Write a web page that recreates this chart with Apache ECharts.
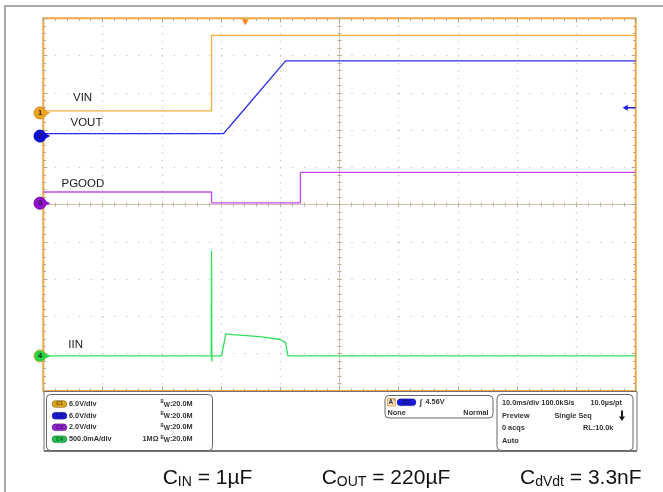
<!DOCTYPE html>
<html><head><meta charset="utf-8">
<script src="https://cdn.jsdelivr.net/npm/echarts@6/dist/echarts.min.js"></script>
<style>html,body{margin:0;padding:0;background:#fff}#c{width:663px;height:492px}</style>
</head><body><div id="c"></div>
<script>
// ---- data (time in ms from left edge, 10 ms/div) ----
const vinTimeMs = [0, 28.4, 28.4, 100];
const vinVolts = [0.35, 0.35, 12.5, 12.5];
const voutTimeMs = [0, 30.4, 31.6, 40.9, 100];
const voutVolts = [0.4, 0.4, 1.7, 12.1, 12.1];
const pgoodTimeMs = [0, 28.4, 28.4, 43.4, 43.4, 100];
const pgoodVolts = [0.6, 0.6, 0.02, 0.02, 1.65, 1.65];
const iinTimeMs = [0, 28.35, 28.4, 28.45, 28.5, 30.1, 30.8, 32.0, 36.5, 39.9, 40.9, 41.3, 100];
const iinMilliAmps = [0, 0, 1410, -75, 0, 0, 295, 285, 259, 224, 179, 0, 0];
const channelNames = ['VIN', 'VOUT', 'PGOOD', 'IIN'];
const channelScaleText = ['6.0V/div', '6.0V/div', '2.0V/div', '500.0mA/div'];
const channelScales = [6, 6, 2, 500];          // units per division
const triggerTimeMs = 34.1;
const triggerLevelV = 4.56;
const divisionTicks = [-5, -4, -3, -2, -1, 0, 1, 2, 3, 4, 5];

// scope channel offsets (divisions above screen centre) - display setup
const channelGroundDiv = [2.46, 1.84, 0.04, -4.06];

const FONT = '"Liberation Sans", Arial, sans-serif';
const orange = '#F0A83C';
const tickColor = '#B0A283';
const dotColor = '#C4C4C4';
const traceColors = ['#F7AE3A', '#2B2BEA', '#C848F0', '#2FE05C'];
const markerColors = ['#EFA21E', '#0C0CE6', '#9410D6', '#22D646'];
const markerRing = ['#C8881A', '#0808A0', '#6A0A9A', '#E4A232'];
const badgeColors = ['#D9A21C', '#1A1AD6', '#8E22CC', '#22BC50'];

const tMin = vinTimeMs[0], tMax = vinTimeMs[vinTimeMs.length - 1];
const zip = (xs, ys) => xs.map((x, i) => [x, ys[i]]);
const seriesData = [zip(vinTimeMs, vinVolts), zip(voutTimeMs, voutVolts), zip(pgoodTimeMs, pgoodVolts), zip(iinTimeMs, iinMilliAmps)];
const chMin = i => (divisionTicks[0] - channelGroundDiv[i]) * channelScales[i];
const chMax = i => (divisionTicks[divisionTicks.length - 1] - channelGroundDiv[i]) * channelScales[i];

const dMin = divisionTicks[0], dMax = divisionTicks[divisionTicks.length - 1];

function divAxis(position, opts) {
  return Object.assign({
    type: 'value', min: dMin, max: dMax, interval: 1, position: position,
    axisLabel: { show: false },
    axisLine: { show: false, onZero: false },
    axisTick: { show: true, inside: true, length: 4, lineStyle: { color: tickColor, width: 1 } },
    minorTick: { show: true, splitNumber: 5, length: 2.5, lineStyle: { color: tickColor, width: 1 } },
    splitLine: { show: false }, minorSplitLine: { show: false }
  }, opts || {});
}
function centreAxis(position) {
  return divAxis(position, {
    axisLine: { show: true, onZero: true, onZeroAxisIndex: 0, lineStyle: { color: '#C8BFAA', width: 1 } },
    axisTick: { show: true, inside: true, length: 2.5, lineStyle: { color: '#BDB196', width: 1 } },
    minorTick: { show: true, splitNumber: 5, length: 2, lineStyle: { color: '#BDB196', width: 1 } }
  });
}

const xAxes = [
  divAxis('bottom', { splitLine: { show: true, lineStyle: { color: dotColor, width: 1.2, type: [1.2, 6.25] } } }),
  divAxis('top'),
  centreAxis('bottom'),
  centreAxis('top'),
  { type: 'value', min: tMin, max: tMax, show: false, axisLine: { onZero: false } }
];
const yAxes = [
  divAxis('left', { splitLine: { show: true, lineStyle: { color: dotColor, width: 1.2, type: [1.2, 10.65] } } }),
  divAxis('right'),
  centreAxis('left'),
  centreAxis('right')
];
channelNames.forEach((n, i) => yAxes.push({ type: 'value', min: chMin(i), max: chMax(i), show: false, axisLine: { onZero: false } }));

function groundMarkers(i) {
  return [
    { coord: [tMin, 0], symbol: 'circle', symbolSize: 12, symbolOffset: [-3.3, 0],
      itemStyle: { color: markerColors[i], borderColor: markerRing[i], borderWidth: 1 },
      label: { show: true, formatter: String(i + 1), color: '#262626', fontSize: 7.5, fontWeight: 'bold', fontFamily: FONT } },
    { coord: [tMin, 0], symbol: 'path://M0,0 L5,2.5 L0,5 Z', symbolSize: [5, 5], symbolOffset: [4.5, 0],
      itemStyle: { color: markerColors[i] }, label: { show: false } }
  ];
}

const series = channelNames.map((n, i) => {
  const marks = groundMarkers(i);
  if (i === 0) marks.push({ coord: [triggerTimeMs, chMax(0)], symbol: 'triangle', symbolRotate: 180, symbolSize: [7, 6], symbolOffset: [0, 4],
    itemStyle: { color: '#F5861E' }, label: { show: false } });
  if (i === 1) marks.push({ coord: [tMax, triggerLevelV], symbol: 'path://M0,3 L5,0 L5,2.2 L13,2.2 L13,3.8 L5,3.8 L5,6 Z', symbolSize: [13, 6], symbolOffset: [-6.5, 0],
    itemStyle: { color: '#1A1AE0' }, label: { show: false } });
  return {
    name: n, type: 'line', xAxisIndex: 4, yAxisIndex: 4 + i, data: seriesData[i],
    showSymbol: false, symbol: 'none', lineStyle: { color: traceColors[i], width: 1.3 }, z: 3,
    markPoint: { silent: true, animation: false, data: marks }
  };
});

// ---------- decorations (screen furniture of the scope) ----------
const txt = (x, y, text, extra) => ({ type: 'text', x: x, y: y, silent: true, z: 20,
  style: Object.assign({ text: text, fill: '#333', font: 'bold 7.3px ' + FONT, align: 'left', verticalAlign: 'middle' }, extra || {}) });
const bw = (x, y) => ({ type: 'text', x: x, y: y, silent: true, z: 20,
  style: { text: '{b|B}{w|W}{t|:20.0M}', align: 'left', verticalAlign: 'middle', fill: '#333',
    rich: { b: { fontSize: 4.5, fontFamily: FONT, fontWeight: 'bold', lineHeight: 5, verticalAlign: 'top', fill: '#333' },
            w: { fontSize: 6.5, fontFamily: FONT, fontWeight: 'bold', lineHeight: 9, verticalAlign: 'middle', fill: '#333', padding: [2, 0, 0, 0] },
            t: { fontSize: 7.3, fontFamily: FONT, fontWeight: 'bold', lineHeight: 9, verticalAlign: 'middle', fill: '#333' } } } });
const badge = (x, y, w, h, color, label) => [
  { type: 'rect', silent: true, z: 20, shape: { x: x, y: y - h / 2, width: w, height: h, r: h / 2 },
    style: { fill: color, stroke: 'rgba(0,0,0,0.35)', lineWidth: 0.6 } },
  { type: 'text', silent: true, z: 21, x: x + w / 2, y: y, style: { text: label, fill: 'rgba(0,0,0,0.55)', font: 'bold 5px ' + FONT, align: 'center', verticalAlign: 'middle' } }
];
const cap = (x, main, sub, rest) => ({ type: 'text', x: x, y: 476, silent: true, z: 20,
  style: { text: '{m|' + main + '}{s|' + sub + '}{m|' + rest + '}', align: 'left', verticalAlign: 'middle',
    rich: { m: { fontSize: 21, fontFamily: FONT, lineHeight: 26, verticalAlign: 'bottom', fill: '#111' },
            s: { fontSize: 14, fontFamily: FONT, lineHeight: 12, verticalAlign: 'bottom', fill: '#111' } } } });

const graphic = [
  { type: 'rect', silent: true, z: -5, shape: { x: 5, y: 6, width: 720, height: 540 }, style: { fill: 'none', stroke: '#8a8a8a', lineWidth: 1.5 } },
  { type: 'rect', silent: true, z: 10, shape: { x: 44, y: 391.5, width: 593, height: 59 }, style: { fill: '#fff', stroke: '#707070', lineWidth: 1 } },
  { type: 'line', silent: true, z: 10, shape: { x1: 44, y1: 451, x2: 637, y2: 451 }, style: { stroke: '#777', lineWidth: 2 } },
  { type: 'rect', silent: true, z: 11, shape: { x: 46.5, y: 394.5, width: 166, height: 56, r: 4 }, style: { fill: '#fff', stroke: '#666', lineWidth: 1 } },
  { type: 'rect', silent: true, z: 11, shape: { x: 385, y: 395.5, width: 108, height: 22.5, r: 4 }, style: { fill: '#fff', stroke: '#666', lineWidth: 1 } },
  { type: 'rect', silent: true, z: 11, shape: { x: 497, y: 394.5, width: 136, height: 56, r: 4 }, style: { fill: '#fff', stroke: '#666', lineWidth: 1 } },
  // trace labels
  { type: 'text', x: 73, y: 97.5, silent: true, z: 20, style: { text: channelNames[0], fill: '#222', font: '11.5px ' + FONT, align: 'left', verticalAlign: 'middle' } },
  { type: 'text', x: 70.5, y: 122.8, silent: true, z: 20, style: { text: channelNames[1], fill: '#222', font: '11.5px ' + FONT, align: 'left', verticalAlign: 'middle' } },
  { type: 'text', x: 61.5, y: 183.5, silent: true, z: 20, style: { text: channelNames[2], fill: '#222', font: '11.5px ' + FONT, align: 'left', verticalAlign: 'middle' } },
  { type: 'text', x: 68.3, y: 345, silent: true, z: 20, style: { text: channelNames[3], fill: '#222', font: '11.5px ' + FONT, align: 'left', verticalAlign: 'middle' } },
  // captions
  cap(162.7, 'C', 'IN', ' = 1µF'),
  cap(321.7, 'C', 'OUT', ' = 220µF'),
  cap(520, 'C', 'dVdt', ' = 3.3nF')
];
const rowsY = [404, 415.7, 427.3, 439.3];
channelNames.forEach((n, i) => {
  graphic.push(...badge(52, rowsY[i], 15, 7, badgeColors[i], 'C' + (i + 1)));
  graphic.push(txt(69, rowsY[i], channelScaleText[i]));
  graphic.push(bw(160.5, rowsY[i]));
});
graphic.push(txt(142.5, rowsY[3], '1MΩ'));
// trigger panel
graphic.push({ type: 'rect', silent: true, z: 20, shape: { x: 387.5, y: 398.5, width: 8, height: 7.5 }, style: { fill: '#FBE3C0', stroke: '#E09A40', lineWidth: 0.8 } });
graphic.push(txt(388.5, 402.3, "A'", { font: 'bold 6.5px ' + FONT }));
graphic.push(...badge(397, 402.3, 19, 7, badgeColors[1], 'C2'));
graphic.push(txt(419.5, 402.3, '∫', { font: 'bold 8px ' + FONT }));
graphic.push(txt(425.5, 402.3, triggerLevelV.toFixed(2) + 'V'));
graphic.push(txt(387.5, 413, 'None'));
graphic.push(txt(488.5, 413, 'Normal', { align: 'right' }));
// acquisition panel
graphic.push(txt(502, 403.3, '10.0ms/div 100.0kS/s'));
graphic.push(txt(590.5, 403.3, '10.0µs/pt'));
graphic.push(txt(502, 415.5, 'Preview'));
graphic.push(txt(554.5, 415.5, 'Single Seq'));
graphic.push({ type: 'polygon', silent: true, z: 20,
  shape: { points: [[621, 410.5], [623, 410.5], [623, 416.5], [625, 416.5], [622, 421], [619, 416.5], [621, 416.5]] },
  style: { fill: '#1a1a1a' } });
graphic.push(txt(502, 428, '0 acqs'));
graphic.push(txt(583, 428, 'RL:10.0k'));
graphic.push(txt(502, 440.5, 'Auto'));

const chart = echarts.init(document.getElementById('c'), null, { renderer: 'canvas' });
chart.setOption({
  animation: false,
  backgroundColor: '#fff',
  grid: { left: 43.3, top: 18.3, width: 592.4, height: 372.7, show: true, borderColor: orange, borderWidth: 2,
    backgroundColor: 'transparent', containLabel: false, outerBoundsMode: 'none' },
  xAxis: xAxes,
  yAxis: yAxes,
  series: series,
  graphic: graphic
});
</script></body></html>
